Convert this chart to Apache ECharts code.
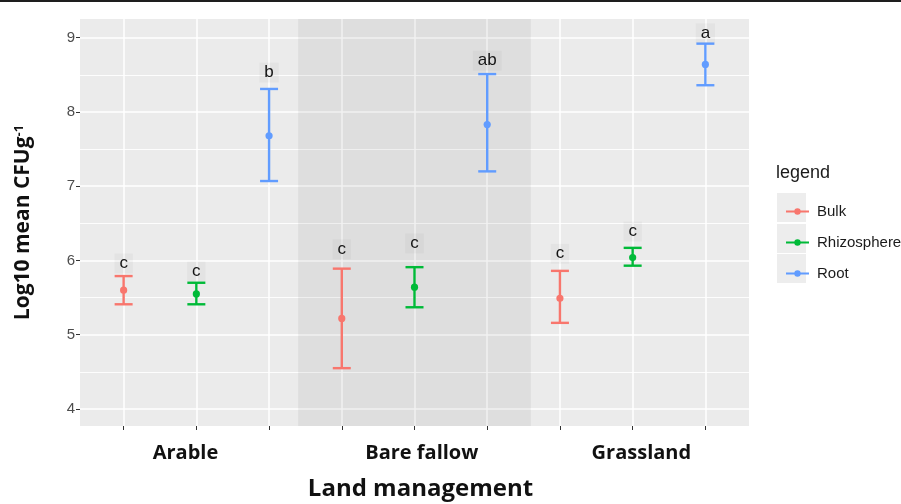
<!DOCTYPE html>
<html>
<head>
<meta charset="utf-8">
<script src="https://cdn.jsdelivr.net/npm/echarts@6/dist/echarts.min.js"></script>
<style>html,body{margin:0;padding:0;background:#fff}#c{width:901px;height:504px}</style>
</head>
<body>
<div id="c"></div>
<script>
// ---- data ----
const groups = ['Arable', 'Bare fallow', 'Grassland'];
const seriesNames = ['Bulk', 'Rhizosphere', 'Root'];
const colors = ['#F8766D', '#00BA38', '#619CFF'];
// per series, values for Arable, Bare fallow, Grassland
const means = {
  Bulk:        [5.60, 5.22, 5.49],
  Rhizosphere: [5.55, 5.64, 6.04],
  Root:        [7.68, 7.83, 8.64]
};
const lows = {
  Bulk:        [5.41, 4.55, 5.16],
  Rhizosphere: [5.41, 5.37, 5.93],
  Root:        [7.07, 7.20, 8.36]
};
const highs = {
  Bulk:        [5.79, 5.89, 5.86],
  Rhizosphere: [5.70, 5.91, 6.17],
  Root:        [8.31, 8.51, 8.92]
};
const letters = {
  Bulk:        ['c', 'c', 'c'],
  Rhizosphere: ['c', 'c', 'c'],
  Root:        ['b', 'ab', 'a']
};
const letterY = {
  Bulk:        [5.96, 6.15, 6.09],
  Rhizosphere: [5.85, 6.23, 6.39],
  Root:        [8.53, 8.69, 9.06]
};
const yTicks = [4, 5, 6, 7, 8, 9];
const yMinorTicks = [4.5, 5.5, 6.5, 7.5, 8.5];
const xTicks = [1, 2, 3, 4, 5, 6, 7, 8, 9];
const groupLabelPos = [1.85, 5.10, 8.12];
const shadedGroup = [3.4, 6.6];

// ---- build ----
const chart = echarts.init(document.getElementById('c'), null, {renderer: 'canvas'});

function renderBar(params, api) {
  const x = api.value(0), m = api.value(1), lo = api.value(2), hi = api.value(3), ly = api.value(4);
  const pLo = api.coord([x, lo]), pHi = api.coord([x, hi]), pM = api.coord([x, m]), pL = api.coord([x, ly]);
  const color = api.visual('color');
  const hw = 9;
  const sName = seriesNames[params.seriesIndex - 1];
  const txt = letters[sName][params.dataIndex];
  return {
    type: 'group',
    children: [
      {type: 'line', shape: {x1: pLo[0], y1: pLo[1], x2: pHi[0], y2: pHi[1]}, style: {stroke: color, lineWidth: 2.4}},
      {type: 'line', shape: {x1: pHi[0] - hw, y1: pHi[1], x2: pHi[0] + hw, y2: pHi[1]}, style: {stroke: color, lineWidth: 2.4}},
      {type: 'line', shape: {x1: pLo[0] - hw, y1: pLo[1], x2: pLo[0] + hw, y2: pLo[1]}, style: {stroke: color, lineWidth: 2.4}},
      {type: 'circle', shape: {cx: pM[0], cy: pM[1], r: 3.6}, style: {fill: color}},
      {type: 'text', x: pL[0], y: pL[1], style: {
        text: txt, align: 'center', verticalAlign: 'middle',
        fontFamily: 'Liberation Sans', fontSize: 17, fill: '#141414',
        backgroundColor: 'rgba(0,0,0,0.03)', padding: [2, 5, 1, 5]
      }}
    ]
  };
}

const series = [{
  name: 'shade', type: 'line', data: [], silent: true,
  markArea: {silent: true, itemStyle: {color: 'rgba(0,0,0,0.055)'},
    data: [[{xAxis: shadedGroup[0]}, {xAxis: shadedGroup[1]}]]}
}];
seriesNames.forEach((s, si) => {
  series.push({
    name: s, type: 'custom', renderItem: renderBar,
    itemStyle: {color: colors[si]},
    encode: {x: 0, y: [1, 2, 3]},
    data: groups.map((g, gi) => [gi * 3 + si + 1, means[s][gi], lows[s][gi], highs[s][gi], letterY[s][gi]])
  });
});

const legendIcon = 'path://M0,2.1 L23,2.1 L23,4.3 L0,4.3 Z M11.5,0 A3.2,3.2 0 1,1 11.49,0 Z';

chart.setOption({
  animation: false,
  backgroundColor: '#ffffff',
  grid: {left: 80, top: 19, right: 152, bottom: 78, show: true, backgroundColor: '#EBEBEB', borderWidth: 0,
    containLabel: false, outerBoundsMode: 'none'},
  xAxis: {
    type: 'value', min: 0.4, max: 9.6,
    axisLine: {show: false},
    axisTick: {show: true, customValues: xTicks, length: 4, lineStyle: {color: '#333', width: 1}},
    axisLabel: {customValues: groupLabelPos, margin: 17,
      formatter: v => { const i = groupLabelPos.findIndex(p => Math.abs(p - v) < 1e-6); return i >= 0 ? groups[i] : ''; },
      fontFamily: 'Open Sans', fontWeight: 'bold', fontSize: 20, color: '#111'},
    splitLine: {show: true, lineStyle: {color: '#ffffff', width: 1.5}},
    name: 'Land management', nameLocation: 'middle', nameGap: 51,
    nameTextStyle: {fontFamily: 'Open Sans', fontWeight: 'bold', fontSize: 24, color: '#111', padding: [0, 0, 0, 12]}
  },
  yAxis: [{
    type: 'value', min: 3.771, max: 9.252,
    axisLine: {show: false},
    axisTick: {show: true, customValues: yTicks, length: 4, lineStyle: {color: '#333'}},
    axisLabel: {customValues: yTicks, margin: 5, fontFamily: 'Liberation Sans', fontSize: 15, color: '#4D4D4D'},
    splitLine: {show: true, lineStyle: {color: '#ffffff', width: 1.5}},
    name: '{a|Log10 mean CFUg}{s|-1}', nameLocation: 'middle', nameGap: 46,
    nameTextStyle: {rich: {
      a: {fontFamily: 'Open Sans', fontWeight: 'bold', fontSize: 21, color: '#111'},
      s: {fontFamily: 'Open Sans', fontWeight: 'bold', fontSize: 13, color: '#111', verticalAlign: 'top'}
    }}
  }, {
    type: 'value', min: 3.771, max: 9.252, position: 'left',
    axisLine: {show: false},
    axisTick: {show: false, customValues: yMinorTicks},
    axisLabel: {show: false, customValues: yMinorTicks},
    splitLine: {show: true, lineStyle: {color: '#ffffff', width: 0.9}}
  }],
  legend: {
    orient: 'vertical', left: 781, top: 199,
    itemWidth: 23, itemHeight: 29, itemGap: 16,
    data: seriesNames.map(n => ({name: n, icon: legendIcon})),
    textStyle: {fontFamily: 'Liberation Sans', fontSize: 15, color: '#1a1a1a', padding: [0, 0, 0, 3]},
    selectedMode: false
  },
  graphic: [
    {type: 'rect', left: 0, top: 0, shape: {width: 901, height: 2}, style: {fill: '#1e1e1e'}, z: 10},
    {type: 'text', left: 776, top: 164, style: {text: 'legend', fontFamily: 'Liberation Sans', fontSize: 18, fill: '#1a1a1a'}},
    {type: 'rect', left: 777, top: 193, shape: {width: 29, height: 29}, style: {fill: '#EDEDED'}, z: -1},
    {type: 'rect', left: 777, top: 224, shape: {width: 29, height: 29}, style: {fill: '#EDEDED'}, z: -1},
    {type: 'rect', left: 777, top: 254, shape: {width: 29, height: 29}, style: {fill: '#EDEDED'}, z: -1}
  ],
  series: series
});
</script>
</body>
</html>
